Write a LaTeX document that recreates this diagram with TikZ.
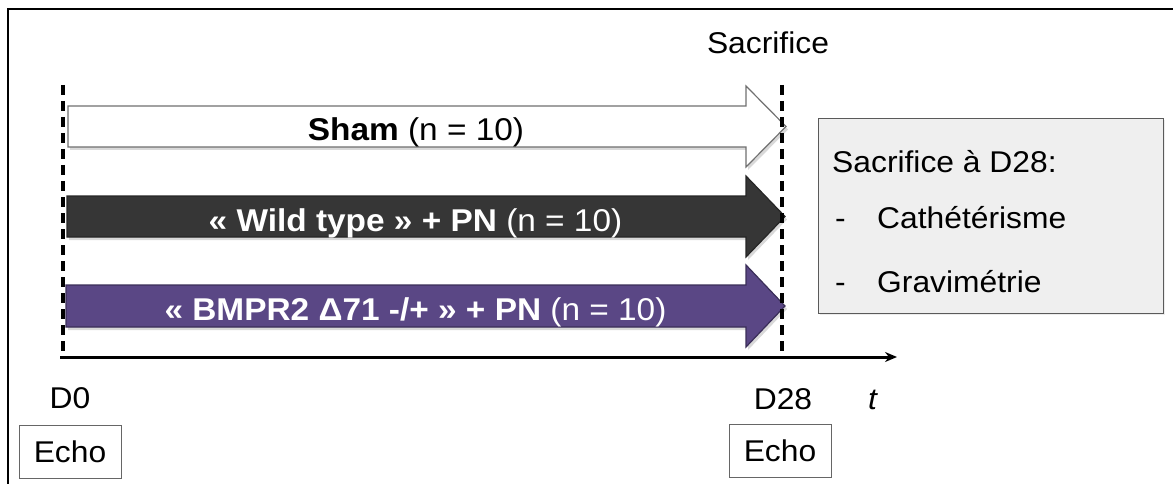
\documentclass[tikz,border=0pt]{standalone}
\usepackage{fontspec}
\setmainfont[FakeStretch=1.06]{Liberation Sans}
\usetikzlibrary{arrows.meta,shadows}
\definecolor{shamline}{HTML}{707070}
\definecolor{wildfill}{HTML}{363636}
\definecolor{wildline}{HTML}{262626}
\definecolor{bmprfill}{HTML}{5A4785}
\definecolor{bmprline}{HTML}{3A2E58}
\definecolor{boxfill}{HTML}{EFEFEF}
\definecolor{boxline}{HTML}{5A5A5A}
\definecolor{echoline}{HTML}{666666}
\tikzset{
  lbl/.style={inner sep=0pt, font=\fontsize{30}{36}\selectfont},
  arrowlbl/.style={inner sep=0pt, anchor=base, font=\fontsize{31.5}{38}\selectfont},
  grouparrow/.style={line width=1.2pt, line join=miter, drop shadow={shadow xshift=2pt, shadow yshift=-3pt, opacity=0.3}},
  dashline/.style={line width=3.2pt, dash pattern=on 10pt off 6pt},
  echobox/.style={draw=echoline, line width=1pt, minimum width=102pt, minimum height=53pt, inner sep=0pt, font=\fontsize{30}{36}\selectfont},
  infobox/.style={draw=boxline, fill=boxfill, line width=1pt, minimum width=345pt, minimum height=194pt, inner sep=0pt, drop shadow={shadow xshift=1.5pt, shadow yshift=-1.5pt, opacity=0.15}}
}
\begin{document}
\begin{tikzpicture}[x=1pt, y=-1pt]
\useasboundingbox (0,0) rectangle (1173,484);
% outer frame (top and left edges visible)
\draw[line width=2pt] (8,484) -- (8,9) -- (1173,9);

% group arrows
\path[grouparrow, draw=shamline, fill=white]
  (68,106) -- (746,106) -- (746,86) -- (786,126.5) -- (746,167) -- (746,147) -- (68,147) -- cycle;
\path[grouparrow, draw=wildline, fill=wildfill]
  (67,196) -- (746,196) -- (746,176) -- (785,216.5) -- (746,257) -- (746,237) -- (67,237) -- cycle;
\path[grouparrow, draw=bmprline, fill=bmprfill]
  (66,285) -- (746,285) -- (746,265) -- (785,306) -- (746,347) -- (746,327) -- (66,327) -- cycle;

\node[arrowlbl] (sham) at (416,141) {\textbf{Sham} (n = 10)};
\node[arrowlbl, text=white] (wild) at (415.5,231) {\textbf{« Wild type » + PN} (n = 10)};
\node[arrowlbl, text=white] (bmpr) at (415.5,320) {\textbf{« BMPR2 Δ71 -/+ » + PN} (n = 10)};

% dashed time markers
\coordinate (d0top) at (63,85);
\coordinate (d0bot) at (63,355);
\coordinate (d28top) at (782,85);
\coordinate (d28bot) at (782,352);
\draw[dashline] (d0top) -- (d0bot);
\draw[dashline] (d28top) -- (d28bot);

% time axis
\coordinate (ax0) at (60,357);
\coordinate (ax1) at (897,357);
\draw[line width=3pt, -{Stealth[length=12pt, width=10pt]}] (ax0) -- (ax1);

\node[lbl, anchor=base] (sacr) at (768,54) {Sacrifice};

% info box
\node[infobox] (info) at (990.5,216) {};
\node[lbl, anchor=base west] (infotitle) at (832,172) {Sacrifice à D28:};
\node[lbl, anchor=base west] (dash1) at (835,228) {-};
\node[lbl, anchor=base west] (cath) at (877,228) {Cathétérisme};
\node[lbl, anchor=base west] (dash2) at (835,292) {-};
\node[lbl, anchor=base west] (grav) at (877,292) {Gravimétrie};

% time labels
\node[lbl, anchor=base] (d0) at (70,408) {D0};
\node[lbl, anchor=base] (d28) at (783,409) {D28};
\node[lbl, anchor=base] (tlbl) at (873,409) {\textit{t}};
\node[echobox] (echo0) at (70,451.5) {Echo};
\node[echobox] (echo28) at (780,450.5) {Echo};
\end{tikzpicture}
\end{document}
